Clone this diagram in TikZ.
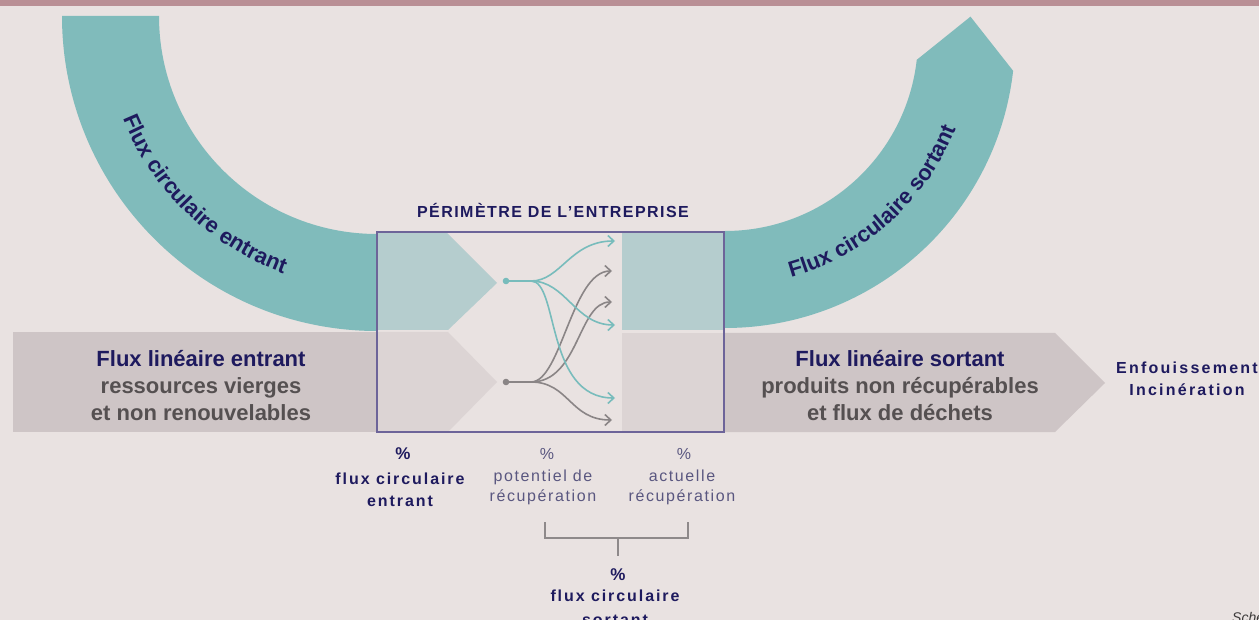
\documentclass[tikz,border=0pt]{standalone}
\usepackage{fontspec}
\setmainfont{Liberation Sans}
\newfontfamily\spcTitle[LetterSpace=9]{Liberation Sans}
\newfontfamily\spcLbl[LetterSpace=12]{Liberation Sans}
\newfontfamily\spcReg[LetterSpace=10]{Liberation Sans}
\newfontfamily\spcEnd[LetterSpace=14]{Liberation Sans}
\usetikzlibrary{arrows.meta,calc,decorations.text}

\definecolor{bg}{HTML}{E9E2E1}
\definecolor{topbar}{HTML}{B98F95}
\definecolor{tealband}{HTML}{80BBBB}
\definecolor{tealpale}{HTML}{B5CDCE}
\definecolor{grayband}{HTML}{CEC5C6}
\definecolor{graypale}{HTML}{DCD4D4}
\definecolor{navy}{HTML}{1E1A5E}
\definecolor{txtgray}{HTML}{555051}
\definecolor{lblreg}{HTML}{5A5780}
\definecolor{framecol}{HTML}{6D6499}
\definecolor{curveteal}{HTML}{78BCBC}
\definecolor{curvegray}{HTML}{8A8586}
\definecolor{bracketcol}{HTML}{8E898A}
\definecolor{notecol}{HTML}{3C3A3A}

\newcommand\curvefont{\color{navy}\bfseries\fontsize{22}{22}\selectfont}

\tikzset{
  bandtext/.style={align=center, text=txtgray, font=\bfseries\fontsize{22}{27}\selectfont, inner sep=0pt},
  lblbold/.style={align=center, text=navy, font=\spcLbl\bfseries\fontsize{16}{22}\selectfont, inner sep=0pt},
  lblreg/.style={align=center, text=lblreg, font=\spcReg\fontsize{16}{20}\selectfont, inner sep=0pt},
  pctbold/.style={text=navy, font=\bfseries\fontsize{17}{17}\selectfont, inner sep=0pt},
  pctreg/.style={text=lblreg, font=\fontsize{16}{16}\selectfont, inner sep=0pt},
  tealcurve/.style={draw=curveteal, line width=1.6pt, -{Straight Barb[length=6pt,width=11pt]}},
  graycurve/.style={draw=curvegray, line width=1.6pt, -{Straight Barb[length=6pt,width=11pt]}},
  bracketline/.style={draw=bracketcol, line width=2pt},
}

\begin{document}
\begin{tikzpicture}[x=1pt,y=1pt]
\useasboundingbox (0,0) rectangle (1259,-620);
\clip (0,0) rectangle (1259,-620);
\fill[bg] (0,0) rectangle (1259,-620);
\fill[topbar] (0,0) rectangle (1259,-6);

% centres of the arcs
\coordinate (lc) at (377,-16);
\coordinate (rc) at (725,-38);

% left circular band (incoming)
\fill[tealband] ($(lc)+(180:315)$) -- ($(lc)+(180:218)$)
  arc[start angle=180,end angle=270,radius=218pt]
  -- ($(lc)+(270:315)$)
  arc[start angle=270,end angle=180,radius=315pt] -- cycle;

% right circular band (outgoing) with pointed end
\fill[tealband] ($(rc)+(270:193)$)
  arc[start angle=270,end angle=353.5,radius=193pt]
  -- ($(rc)+(353.5:241.5)+(83.5:49)$)
  -- ($(rc)+(353.5:290)$)
  arc[start angle=353.5,end angle=270,radius=290pt] -- cycle;

% linear bands
\fill[grayband] (13,-332) rectangle (377,-432);
\fill[grayband] (725,-333) -- (1055,-333) -- (1105,-383) -- (1055,-432) -- (725,-432) -- cycle;

% inside the company perimeter
\fill[tealpale] (377,-232) -- (446,-232) -- (497,-283) -- (448,-330) -- (377,-330) -- cycle;
\fill[graypale] (377,-332) -- (448,-332) -- (497,-382) -- (448,-432) -- (377,-432) -- cycle;
\fill[tealpale] (622,-232) rectangle (724,-330);
\fill[graypale] (622,-333) rectangle (724,-432);

% flow curves
\coordinate (dt) at (506,-281);
\coordinate (dg) at (506,-382);
\coordinate (ts) at (531,-281);
\coordinate (gs) at (531,-382);
\coordinate (t1) at (615,-241);
\coordinate (t2) at (615,-325);
\coordinate (t3) at (615,-398);
\coordinate (g1) at (612,-271);
\coordinate (g2) at (612,-302);
\coordinate (g3) at (612,-420);

\draw[graycurve] (dg) -- (gs) .. controls +(30,0) and +(-40,0) .. (g1);
\draw[graycurve] (dg) -- (gs) .. controls +(48,0) and +(-34,0) .. (g2);
\draw[graycurve] (dg) -- (gs) .. controls +(38,0) and +(-42,0) .. (g3);
\draw[tealcurve] (dt) -- (ts) .. controls +(30,0) and +(-45,0) .. (t1);
\draw[tealcurve] (dt) -- (ts) .. controls +(35,0) and +(-40,0) .. (t2);
\draw[tealcurve] (dt) -- (ts) .. controls +(28,0) and +(-70,0) .. (t3);
\fill[curveteal] (dt) circle (3.3);
\fill[curvegray] (dg) circle (3.3);

% perimeter frame
\draw[framecol, line width=1.5pt] (377,-232) rectangle (724,-432);
\node[text=navy, font=\spcTitle\bfseries\fontsize{16}{16}\selectfont, inner sep=0pt] (perim) at (553,-210) {PÉRIMÈTRE DE L’ENTREPRISE};

% curved labels
\path[decorate, decoration={text along path, text={|\curvefont|Flux circulaire entrant}, text align=center}]
  ($(lc)+(190:274)$) arc[start angle=190,end angle=262,radius=274pt];
\path[decorate, decoration={text along path, text={|\curvefont|Flux circulaire sortant}, text align=center}]
  ($(rc)+(-85:248)$) arc[start angle=-85,end angle=-11,radius=248pt];

% band texts
\node[bandtext] (linin) at (201,-386) {{\color{navy}Flux linéaire entrant}\\ressources vierges\\et non renouvelables};
\node[bandtext] (linout) at (900,-386) {{\color{navy}Flux linéaire sortant}\\produits non récupérables\\et flux de déchets};
\node[align=center, text=navy, font=\spcEnd\bfseries\fontsize{16}{22}\selectfont, inner sep=0pt] (fin) at (1187,-379) {Enfouissement\\Incinération};

% bottom labels
\node[pctbold] (p1) at (403,-454) {\%};
\node[lblbold] (l1) at (400,-490) {flux circulaire\\entrant};
\node[pctreg] (p2) at (547,-454) {\%};
\node[lblreg] (l2) at (543,-487) {potentiel de\\récupération};
\node[pctreg] (p3) at (684,-454) {\%};
\node[lblreg] (l3) at (682,-487) {actuelle\\récupération};

% bracket
\coordinate (brL) at (545,-522);
\coordinate (brR) at (688,-522);
\coordinate (brM) at (618,-538);
\coordinate (brS) at (618,-556);
\draw[bracketline] (brL) -- ++(0,-16) -| (brR);
\draw[bracketline] (brM) -- (brS);

\node[pctbold] (p4) at (618,-575) {\%};
\node[lblbold, anchor=north, font=\spcLbl\bfseries\fontsize{16}{24}\selectfont] (l4) at (615,-590) {flux circulaire\\sortant};

\node[anchor=base west, text=notecol, font=\itshape\fontsize{14}{14}\selectfont, inner sep=0pt] (note) at (1232,-622) {Sche};
\end{tikzpicture}
\end{document}
